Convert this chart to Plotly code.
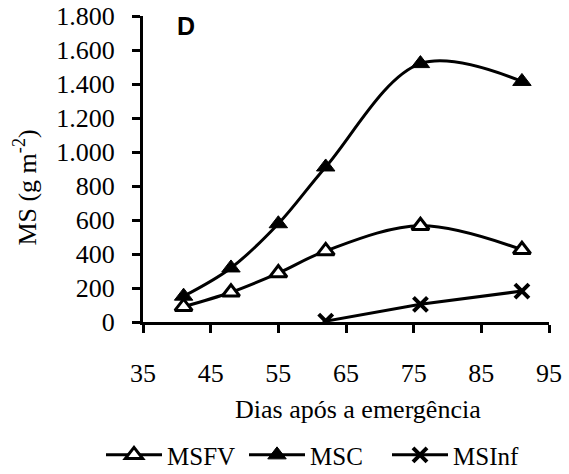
import plotly.graph_objects as go

days_fv = [41, 48, 55, 62, 76, 91]
msfv = [90, 175, 288, 418, 566, 425]
days_sc = [41, 48, 55, 62, 76, 91]
msc = [152, 318, 578, 912, 1520, 1415]
days_inf = [62, 76, 91]
msinf = [5, 104, 182]

y_ticks = [0, 200, 400, 600, 800, 1000, 1200, 1400, 1600, 1800]
y_labels = ["0", "200", "400", "600", "800", "1.000", "1.200", "1.400", "1.600", "1.800"]
x_ticks = [35, 45, 55, 65, 75, 85, 95]

SERIF = "Times New Roman"
SANS = "Arial"

fig = go.Figure()
fig.add_trace(go.Scatter(
    x=days_fv, y=msfv, name="MSFV", mode="lines+markers",
    line=dict(color="black", width=3, shape="spline", smoothing=1),
    marker=dict(symbol="triangle-up", size=15, color="white",
                line=dict(color="black", width=3)),
))
fig.add_trace(go.Scatter(
    x=days_sc, y=msc, name="MSC", mode="lines+markers",
    line=dict(color="black", width=3, shape="spline", smoothing=1),
    marker=dict(symbol="triangle-up", size=16, color="black",
                line=dict(color="black", width=1)),
))
fig.add_trace(go.Scatter(
    x=days_inf, y=msinf, name="MSInf", mode="lines+markers",
    line=dict(color="black", width=3),
    marker=dict(symbol="x-thin-open", size=14, color="black",
                line=dict(color="black", width=4)),
))

fig.update_layout(
    width=569, height=474,
    margin=dict(l=143, r=20, t=16, b=152, autoexpand=False),
    paper_bgcolor="white", plot_bgcolor="white",
    font=dict(family=SERIF, size=26, color="black"),
    showlegend=True,
    legend=dict(orientation="h", x=(101 - 143) / 406, xanchor="left", y=-0.435, yanchor="middle",
                font=dict(family=SERIF, size=25, color="black"),
                itemwidth=56, entrywidth=72, entrywidthmode="pixels",
                traceorder="normal", bgcolor="rgba(0,0,0,0)"),
    annotations=[
        dict(text="<b>D</b>", x=(186 - 143) / 406 * 60 + 35, y=(322 - 26) / 306 * 1800,
             xref="x", yref="y", showarrow=False,
             xanchor="center", yanchor="middle",
             font=dict(family=SANS, size=25, color="black")),
        dict(text="MS (g m<sup>-2</sup>)", x=-0.29, y=0.44, xref="paper", yref="paper",
             showarrow=False, textangle=-90, xanchor="center", yanchor="middle",
             font=dict(family=SERIF, size=26, color="black")),
        dict(text="Dias após a emergência", x=0.53, y=-0.285, xref="paper", yref="paper",
             showarrow=False, xanchor="center", yanchor="middle",
             font=dict(family=SERIF, size=26, color="black")),
    ],
)

fig.update_xaxes(
    range=[35, 95], tickvals=x_ticks, showgrid=False, zeroline=False,
    showline=True, linecolor="black", linewidth=3,
    ticks="outside", ticklen=8, tickwidth=3, tickcolor="black",
    ticklabelstandoff=18, tickfont=dict(family=SERIF, size=26),
)
fig.update_yaxes(
    range=[0, 1800], tickvals=y_ticks, ticktext=y_labels, showgrid=False, zeroline=False,
    showline=True, linecolor="black", linewidth=3,
    ticks="outside", ticklen=8, tickwidth=3, tickcolor="black",
    ticklabelstandoff=12, tickfont=dict(family=SERIF, size=26),
)

fig.write_html("out.html", config={"displayModeBar": False},
               post_script="document.body.style.margin='0px';")
